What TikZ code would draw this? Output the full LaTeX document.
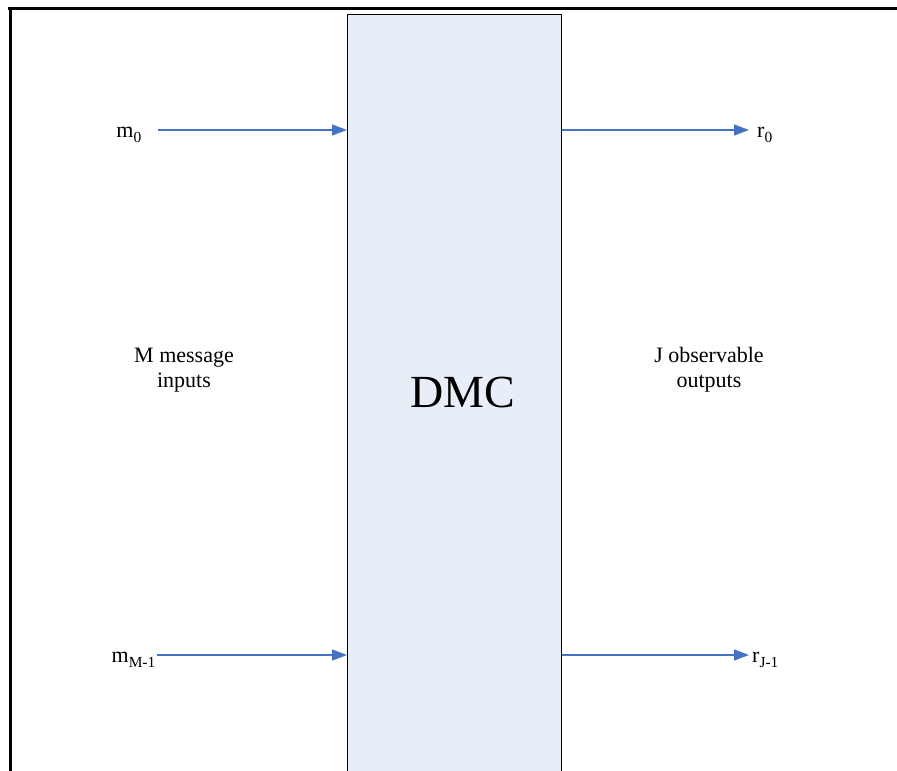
\documentclass[tikz,border=0pt]{standalone}
\usepackage{fontspec}
\setmainfont{Liberation Serif}
\usetikzlibrary{arrows.meta}
\definecolor{arrblue}{HTML}{4472C4}
\definecolor{boxfill}{HTML}{E8EEF7}
\tikzset{
  arr/.style={draw=arrblue, line width=1.3pt, -{Triangle[length=15pt,width=11pt]}},
  lbl/.style={font=\fontsize{22}{25}\selectfont, inner sep=0pt},
  frame/.style={line width=3pt, black},
}
\newcommand{\lowsub}[1]{\raisebox{-0.25ex}{\textsubscript{#1}}}
\begin{document}
\begin{tikzpicture}[x=1pt,y=-1pt]
\useasboundingbox (0,0) rectangle (897,771);
% frame
\draw[frame] (8,8.5) -- (905,8.5);
\draw[frame] (10,8.5) -- (10,780);
% channel box
\node[draw=black, line width=1.2pt, fill=boxfill, minimum width=214pt, minimum height=780pt, inner sep=0pt, anchor=north west] (dmc) at (347,14) {};
\node[font=\fontsize{46}{50}\selectfont, anchor=base, inner sep=0pt] (dmclbl) at (463,407) {DMC};
% labels
\node[lbl, anchor=base east] (m0) at (142,137) {m\lowsub{0}};
\node[lbl, anchor=base east] (mM) at (156,662) {m\lowsub{M-1}};
\node[lbl, anchor=base west] (r0) at (757,137) {r\lowsub{0}};
\node[lbl, anchor=base west] (rJ) at (752,662) {r\lowsub{J-1}};
\node[lbl, align=center, anchor=base] (min) at (184,387) {M message\\inputs};
\node[lbl, align=center, anchor=base] (jout) at (709,387) {J observable\\outputs};
% connector end points
\coordinate (m0s) at (158,130);
\coordinate (mMs) at (157,655);
\coordinate (r0e) at (749,130);
\coordinate (rJe) at (749,655);
\draw[arr] (m0s) -- (m0s -| dmc.west);
\draw[arr] (mMs) -- (mMs -| dmc.west);
\draw[arr] (r0e -| dmc.east) -- (r0e);
\draw[arr] (rJe -| dmc.east) -- (rJe);
\end{tikzpicture}
\end{document}
